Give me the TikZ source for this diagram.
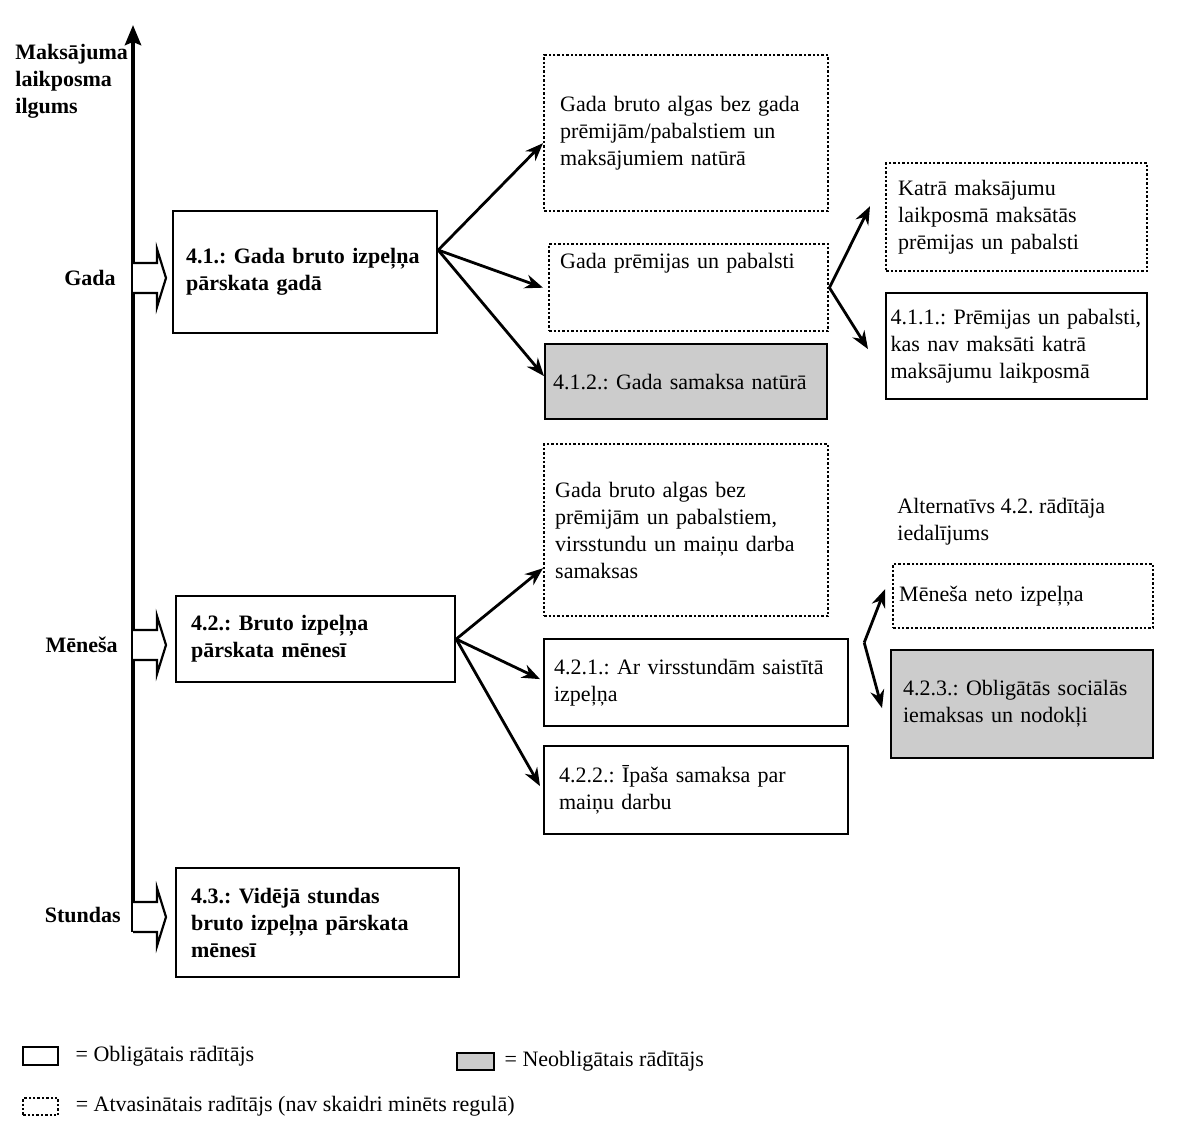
\documentclass[tikz,border=0pt]{standalone}
\usepackage{fontspec}
\setmainfont{Liberation Serif}
\usetikzlibrary{positioning, arrows.meta}
\frenchspacing
\hyphenpenalty=10000
\tikzstyle{mandatory} = [
    rectangle,
    anchor=north west,
    align=left,
    inner xsep=2pt,
    inner ysep=1pt,
    line width=1.1pt,
    draw=black
]
\tikzstyle{derived} = [
    rectangle,
    anchor=north west,
    align=left,
    inner xsep=2pt,
    inner ysep=1pt,
    line width=1.2pt,
    densely dotted,
    draw=black
]
\tikzstyle{optional} = [
    rectangle,
    anchor=north west,
    align=left,
    inner xsep=2pt,
    inner ysep=1pt,
    line width=1.1pt,
    fill=gray!40,
    draw=black
]
\tikzstyle{period} = [font=\fontsize{11}{13.5}\selectfont\bfseries, align=left, inner sep=0pt]
\tikzstyle{legendtext} = [anchor=west, inner sep=0pt]
\tikzstyle{blockarrow} = [line width=1.1pt, draw=black, fill=white]
\tikzstyle{axis} = [line width=2.2pt, -{Stealth[length=10pt,width=8pt,inset=1.5pt]}]
\tikzstyle{arrow} = [line width=1.4pt, -{Stealth[length=9pt,width=7pt]}]

\begin{document}
\begin{tikzpicture}[x=0.5pt, y=-0.5pt, font=\fontsize{11}{13.5}\selectfont]
\useasboundingbox (0,0) rectangle (1192,1143);

% time axis
\coordinate (axisbottom) at (133,932);
\coordinate (axistop) at (133,25);
\draw [axis] (axisbottom) -- (axistop);

\node (axislabel) [period, anchor=west] at (15,81)
{Maksājuma\\laikposma\\ilgums};

\node (year) [period, anchor=east] at (116,278) {Gada};
\node (month) [period, anchor=east] at (118,645) {Mēneša};
\node (hour) [period, anchor=east] at (121,915) {Stundas};

\draw [blockarrow] (133,263) -- (157,263) -- (157,249) -- (166,278)
    -- (157,307) -- (157,293) -- (133,293);
\draw [blockarrow] (133,630) -- (157,630) -- (157,616) -- (166,645)
    -- (157,674) -- (157,660) -- (133,660);
\draw [blockarrow] (133,902) -- (157,902) -- (157,888) -- (166,917)
    -- (157,946) -- (157,932) -- (133,932);

% annual earnings
\node (b41) [mandatory, font=\fontsize{11}{13.5}\selectfont\bfseries,
    minimum width=132pt, minimum height=61pt, text width=119pt] at (172,210)
{4.1.: Gada bruto izpeļņa\\pārskata gadā};

\node (bgross1) [derived, minimum width=142pt, minimum height=78pt,
    text width=126pt] at (543,54)
{Gada bruto algas bez gada\\prēmijām/pabalstiem un\\maksājumiem natūrā};

\node (bbonus) [derived, minimum width=139.5pt, minimum height=43.5pt,
    text width=128.5pt] at (548,243)
{Gada prēmijas un pabalsti\\~\\~};

\node (b412) [optional, minimum width=141pt, minimum height=37.5pt,
    text width=133pt] at (544,343)
{4.1.2.: Gada samaksa natūrā};

\node (beach) [derived, minimum width=130.5pt, minimum height=54pt,
    text width=118.5pt] at (885,162)
{Katrā maksājumu\\laikposmā maksātās\\prēmijas un pabalsti};

\node (b411) [mandatory, minimum width=130.5pt, minimum height=53pt,
    text width=126pt] at (885,292)
{4.1.1.: Prēmijas un pabalsti,\\kas nav maksāti katrā\\maksājumu laikposmā};

% monthly earnings
\node (b42) [mandatory, font=\fontsize{11}{13.5}\selectfont\bfseries,
    minimum width=139.5pt, minimum height=43pt, text width=124.5pt] at (175,595)
{4.2.: Bruto izpeļņa\\pārskata mēnesī};

\node (bgross2) [derived, minimum width=142pt, minimum height=86pt,
    text width=131pt] at (543,443)
{Gada bruto algas bez\\prēmijām un pabalstiem,\\virsstundu un maiņu darba\\samaksas};

\node (b421) [mandatory, minimum width=152pt, minimum height=43.5pt,
    text width=142pt] at (543,638)
{4.2.1.: Ar virsstundām saistītā\\izpeļņa};

\node (b422) [mandatory, minimum width=152pt, minimum height=44pt,
    text width=137pt] at (543,745)
{4.2.2.: Īpaša samaksa par\\maiņu darbu};

\node (altlabel) [anchor=west, align=left, inner sep=0pt] at (897,522)
{Alternatīvs 4.2. rādītāja\\iedalījums};

\node (bnet) [derived, minimum width=130pt, minimum height=32pt,
    text width=124pt] at (892,563)
{Mēneša neto izpeļņa};

\node (b423) [optional, minimum width=131pt, minimum height=54pt,
    text width=119pt] at (890,649)
{4.2.3.: Obligātās sociālās\\iemaksas un nodokļi};

% hourly earnings
\node (b43) [mandatory, font=\fontsize{11}{13.5}\selectfont\bfseries,
    minimum width=141.5pt, minimum height=54.5pt, text width=126.5pt] at (175,867)
{4.3.: Vidējā stundas\\bruto izpeļņa pārskata\\mēnesī};

% connectors
\coordinate (o41) at ([yshift=11pt]b41.east);
\draw [arrow] (o41) -- ([yshift=-5pt]bgross1.west);
\draw [arrow] (o41) -- ([xshift=-2.5pt]bbonus.west);
\draw [arrow] (o41) -- ([yshift=2.75pt]b412.west);

\draw [arrow] (bbonus.east) -- ([xshift=-7.5pt, yshift=5.5pt]beach.west);
\draw [arrow] (bbonus.east) -- ([xshift=-8.5pt, yshift=-1.5pt]b411.west);

\draw [arrow] (b42.east) -- ([yshift=-19pt]bgross2.west);
\draw [arrow] (b42.east) -- ([xshift=-1.5pt, yshift=1.75pt]b421.west);
\draw [arrow] (b42.east) -- ([xshift=-1.5pt, yshift=2pt]b422.west);

\coordinate (altsplit) at ([xshift=7.5pt, yshift=20pt]b421.east);
\draw [arrow] (altsplit) -- ([xshift=-3.5pt, yshift=3.5pt]bnet.west);
\draw [arrow] (altsplit) -- ([xshift=-4pt, yshift=-2pt]b423.west);

% legend
\node (legmand) [mandatory, minimum width=17.5pt, minimum height=9pt,
    inner sep=0pt] at (22,1046) {};
\node (legmandtxt) [legendtext, right=8pt of legmand] {= Obligātais rādītājs};

\node (legopt) [optional, minimum width=18.5pt, minimum height=8.5pt,
    inner sep=0pt] at (456,1052) {};
\node (legopttxt) [legendtext, right=4.5pt of legopt] {= Neobligātais rādītājs};

\node (legder) [derived, minimum width=17.5pt, minimum height=8.5pt,
    inner sep=0pt] at (22,1097) {};
\node (legdertxt) [legendtext, right=8pt of legder]
{= Atvasinātais radītājs (nav skaidri minēts regulā)};

\end{tikzpicture}
\end{document}
